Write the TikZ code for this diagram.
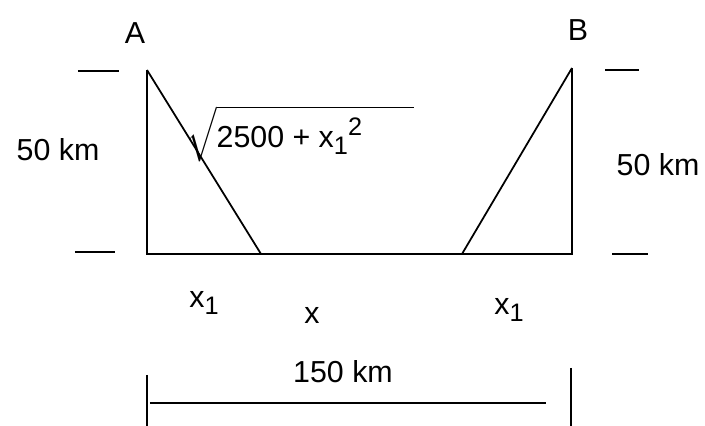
\documentclass[tikz,border=0pt]{standalone}
\usepackage{amsmath}
\usepackage{fontspec}
\setmainfont{Liberation Sans}
\usepackage{tikz}

\newcommand{\subone}{\raisebox{-0.45ex}{\Large 1}}
\newcommand{\suptwo}{\raisebox{0.75ex}{\Large 2}}

\begin{document}
\begin{tikzpicture}[line width=1pt,every node/.style={font=\LARGE}]
\useasboundingbox (0,0) rectangle (14.1,8.52);
\coordinate (A) at (2.94,7.12);
\coordinate (Afoot) at (2.94,3.44);
\coordinate (B) at (11.44,7.16);
\coordinate (Bfoot) at (11.44,3.44);
\coordinate (P1) at (5.22,3.44);
\coordinate (P2) at (9.24,3.44);
\draw (A) -- (Afoot) -- (Bfoot) -- (B);
\draw (A) -- (P1);
\draw (B) -- (P2);
% height marks
\draw (1.56,7.1) -- (2.38,7.1);
\draw (1.5,3.48) -- (2.3,3.48);
\draw (12.1,7.12) -- (12.78,7.12);
\draw (12.24,3.44) -- (12.96,3.44);
% width
\draw (2.94,1.02) -- (2.94,0);
\draw (3.0,0.46) -- (10.92,0.46);
\draw (11.42,1.16) -- (11.42,0);
\node (labA) at (2.7,7.86) {A};
\node (labB) at (11.56,7.92) {B};
\node (hL) at (1.16,5.52) {50 km};
\node (hR) at (13.16,5.22) {50 km};
\node (hyp) at (6.0,5.84) {$\sqrt{\text{2500 + x\subone\suptwo}\hspace{1.7em}}$};
\node (x1L) at (4.08,2.46) {x\subone};
\node (xmid) at (6.24,2.22) {x};
\node (x1R) at (10.18,2.32) {x\subone};
\node (width) at (6.86,1.08) {150 km};
\end{tikzpicture}
\end{document}
